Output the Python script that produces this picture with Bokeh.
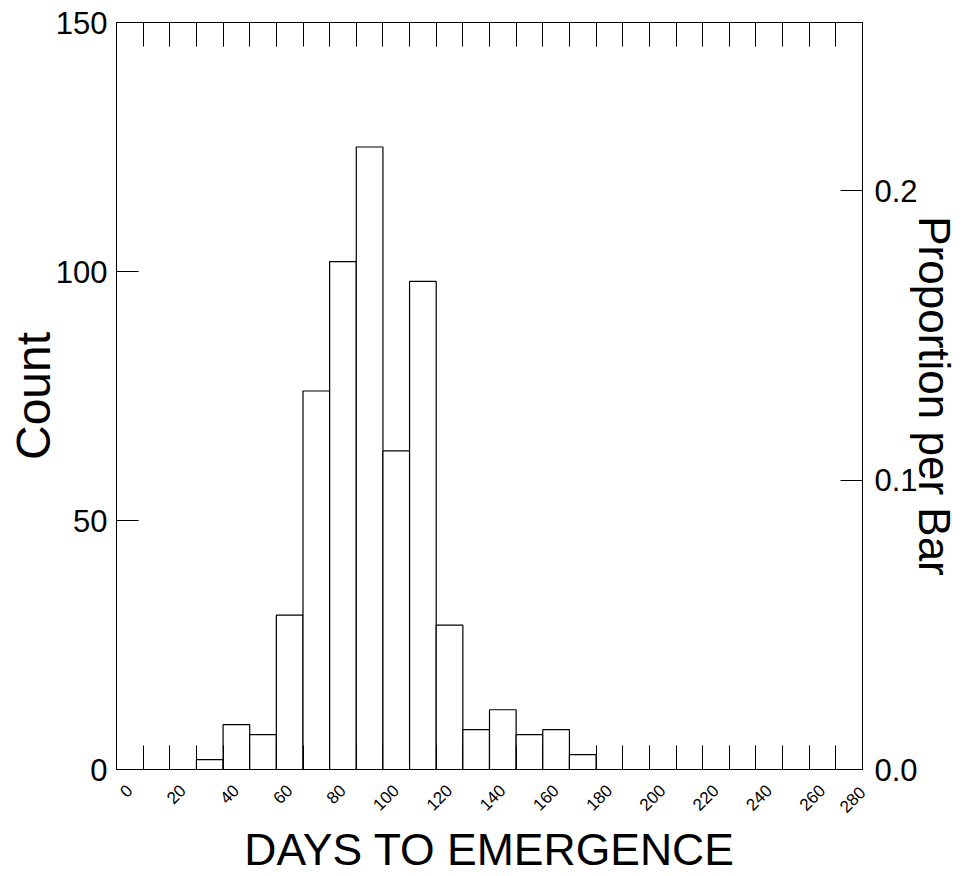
import math
from bokeh.plotting import figure
from bokeh.models import Range1d, LinearAxis, FixedTicker, PrintfTickFormatter
from bokeh.embed import file_html
from bokeh.resources import INLINE

# ---- data ----
bin_left = [30, 40, 50, 60, 70, 80, 90, 100, 110, 120, 130, 140, 150, 160, 170]
counts = [2, 9, 7, 31, 76, 102, 125, 64, 98, 29, 8, 12, 7, 8, 3]
bin_width = 10
x_major_ticks = list(range(0, 281, 20))
x_minor_ticks = list(range(0, 281, 10))
count_ticks = [0, 50, 100, 150]
prop_ticks = [0.0, 0.1, 0.2]

N = sum(counts)
bin_right = [b + bin_width for b in bin_left]

FONT = "Liberation Sans"
FRAME_W, FRAME_H = 746, 747
X0, X1 = 0, 280
LABEL_SHIFT_PX = 13  # rotated tick labels sit a bit right of their ticks
shift = LABEL_SHIFT_PX * (X1 - X0) / FRAME_W
LABEL_STANDOFF = 20
LAST_LABEL_AXIS_SIZE = 54  # size taken by the axis carrying the last label

p = figure(frame_width=FRAME_W, frame_height=FRAME_H,
           x_range=Range1d(X0, X1), y_range=Range1d(0, 150),
           output_backend="svg", toolbar_location=None,
           x_axis_location=None, y_axis_location=None,
           min_border_left=116, min_border_top=22,
           min_border_right=10, min_border_bottom=10)
p.extra_y_ranges = {"prop": Range1d(0, 150 / N)}
p.extra_x_ranges = {"lab": Range1d(X0 - shift, X1 - shift)}
p.xgrid.visible = False
p.ygrid.visible = False
p.outline_line_color = "black"
p.outline_line_width = 1
p.background_fill_color = "white"
p.border_fill_color = "white"

p.quad(left=bin_left, right=bin_right, bottom=0, top=counts,
       fill_color="white", line_color="black", line_width=1.2)

def style(ax):
    ax.axis_line_color = "black"
    ax.major_tick_line_color = "black"
    ax.minor_tick_line_color = "black"
    ax.major_tick_out = 0
    ax.minor_tick_out = 0
    ax.major_label_text_font = FONT
    ax.axis_label_text_font = FONT
    ax.axis_label_text_font_style = "normal"
    ax.major_label_text_color = "black"
    ax.axis_label_text_color = "black"

# bottom axis: ticks, and the label of the last tick (which cannot be shifted past the frame)
xb = LinearAxis(ticker=FixedTicker(ticks=x_major_ticks, minor_ticks=x_minor_ticks),
                major_label_overrides={t: ("" if t != x_major_ticks[-1] else str(t))
                                       for t in x_major_ticks})
style(xb)
xb.major_tick_in = 24
xb.minor_tick_in = 24
xb.major_label_orientation = math.pi / 4
xb.major_label_text_font_size = "17px"
xb.major_label_standoff = LABEL_STANDOFF
p.add_layout(xb, "below")

# bottom axis: the other rotated tick labels (shifted right a little) + title
xl = LinearAxis(x_range_name="lab",
                ticker=FixedTicker(ticks=x_major_ticks[:-1], minor_ticks=[]),
                axis_label="DAYS TO EMERGENCE")
style(xl)
xl.axis_line_color = None
xl.major_tick_line_color = None
xl.major_tick_in = 0
xl.major_label_orientation = math.pi / 4
xl.major_label_text_font_size = "17px"
xl.major_label_standoff = LABEL_STANDOFF - LAST_LABEL_AXIS_SIZE
xl.axis_label_text_font_size = "44.5px"
xl.axis_label_standoff = 6
p.add_layout(xl, "below")

# top axis (ticks only)
xt = LinearAxis(ticker=FixedTicker(ticks=x_major_ticks, minor_ticks=x_minor_ticks),
                major_label_overrides={t: "" for t in x_major_ticks})
style(xt)
xt.major_tick_in = 24
xt.minor_tick_in = 24
xt.major_label_standoff = 0
xt.major_label_text_font_size = "0px"
p.add_layout(xt, "above")

# left axis
yl = LinearAxis(ticker=FixedTicker(ticks=count_ticks, minor_ticks=[]), axis_label="Count")
style(yl)
yl.major_tick_in = 22
yl.major_label_text_font_size = "31px"
yl.major_label_standoff = 9
yl.axis_label_text_font_size = "48px"
yl.axis_label_standoff = -7
p.add_layout(yl, "left")

# right axis
yr = LinearAxis(y_range_name="prop", ticker=FixedTicker(ticks=prop_ticks, minor_ticks=[]),
                formatter=PrintfTickFormatter(format="%.1f"), axis_label="Proportion per Bar")
style(yr)
yr.major_tick_in = 22
yr.major_label_text_font_size = "31px"
yr.major_label_standoff = 12
yr.axis_label_text_font_size = "44px"
yr.axis_label_standoff = -11
p.add_layout(yr, "right")

open("out.html", "w").write(file_html(p, INLINE))
